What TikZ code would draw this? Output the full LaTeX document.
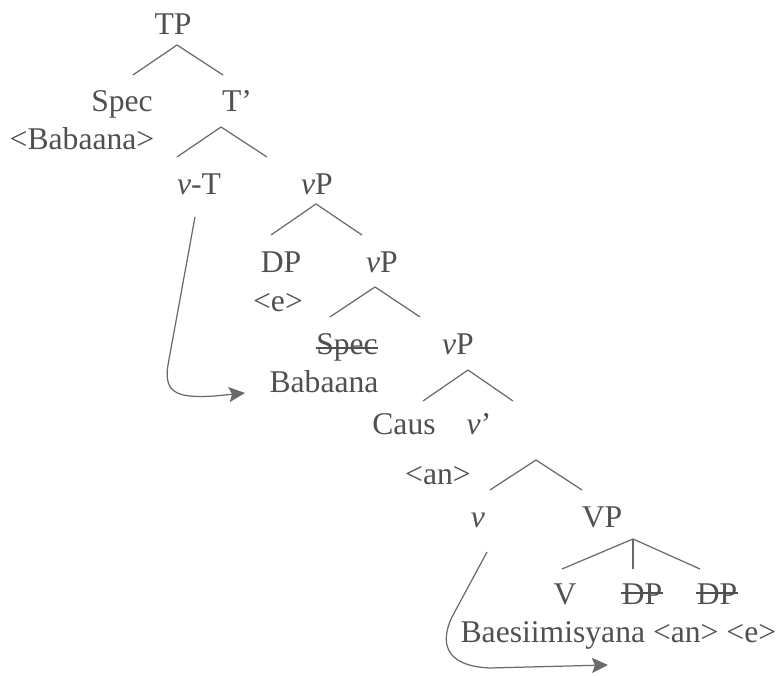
\documentclass[tikz,border=0pt]{standalone}
\usepackage{fontspec}
\setmainfont{Liberation Serif}
\usetikzlibrary{arrows.meta}

\definecolor{txtgray}{HTML}{505050}
\definecolor{lngray}{HTML}{6A6A6A}

\begin{document}
\begin{tikzpicture}[line width=0.7pt, draw=lngray,
    lbl/.style={anchor=base, inner sep=0pt, text=txtgray, font=\fontsize{18}{20}\selectfont},
    mv/.style={-{Stealth[length=0.32cm, width=0.3cm, inset=0.06cm]}, lngray},
    strike/.style={txtgray, line width=0.8pt}]
    \useasboundingbox (0,0) rectangle (15.66cm,13.52cm);

    \coordinate (B1a) at (3.54cm,12.62cm);
    \coordinate (B1l) at (2.66cm,12.02cm);
    \coordinate (B1r) at (4.46cm,12.02cm);
    \coordinate (B2a) at (4.42cm,10.98cm);
    \coordinate (B2l) at (3.54cm,10.38cm);
    \coordinate (B2r) at (5.34cm,10.38cm);
    \coordinate (B3a) at (6.32cm,9.44cm);
    \coordinate (B3l) at (5.42cm,8.82cm);
    \coordinate (B3r) at (7.24cm,8.82cm);
    \coordinate (B4a) at (7.50cm,7.78cm);
    \coordinate (B4l) at (6.60cm,7.18cm);
    \coordinate (B4r) at (8.40cm,7.18cm);
    \coordinate (B5a) at (9.36cm,6.12cm);
    \coordinate (B5l) at (8.46cm,5.50cm);
    \coordinate (B5r) at (10.26cm,5.50cm);
    \coordinate (B6a) at (10.72cm,4.32cm);
    \coordinate (B6l) at (9.80cm,3.72cm);
    \coordinate (B6r) at (11.64cm,3.72cm);
    \coordinate (B7a) at (12.66cm,2.74cm);
    \coordinate (B7l) at (11.24cm,2.14cm);
    \coordinate (B7m) at (12.66cm,2.14cm);
    \coordinate (B7r) at (14.00cm,2.14cm);

    % movement paths
    \coordinate (M1s) at (3.90cm,9.18cm);
    \coordinate (M1t) at (4.90cm,5.66cm);
    \coordinate (M2s) at (9.74cm,2.48cm);
    \coordinate (M2t) at (12.16cm,0.22cm);

    \draw (B1a) -- (B1l);
    \draw (B1a) -- (B1r);
    \draw (B2a) -- (B2l);
    \draw (B2a) -- (B2r);
    \draw (B3a) -- (B3l);
    \draw (B3a) -- (B3r);
    \draw (B4a) -- (B4l);
    \draw (B4a) -- (B4r);
    \draw (B5a) -- (B5l);
    \draw (B5a) -- (B5r);
    \draw (B6a) -- (B6l);
    \draw (B6a) -- (B6r);
    \draw (B7a) -- (B7l);
    \draw (B7a) -- (B7m);
    \draw (B7a) -- (B7r);

    \draw[mv] (M1s) -- (3.36cm,6.22cm)
      .. controls (3.26cm,5.62cm) and (3.60cm,5.56cm) .. (4.30cm,5.60cm) -- (M1t);
    \draw[mv] (M2s) -- (9.04cm,1.18cm)
      .. controls (8.82cm,0.72cm) and (8.84cm,0.20cm) .. (9.80cm,0.16cm) -- (M2t);

    \node[lbl] (TP) at (3.46cm,12.82cm) {TP};
    \node[lbl] (Spec) at (2.44cm,11.28cm) {Spec};
    \node[lbl] (Tb) at (4.74cm,11.28cm) {T’};
    \node[lbl] (Sbab) at (1.64cm,10.52cm) {<Babaana>};
    \node[lbl] (vT) at (3.98cm,9.62cm) {\textit{v}-T};
    \node[lbl] (vP1) at (6.34cm,9.62cm) {\textit{v}P};
    \node[lbl] (DP) at (5.62cm,8.06cm) {DP};
    \node[lbl] (vP2) at (7.64cm,8.06cm) {\textit{v}P};
    \node[lbl] (DPe) at (5.56cm,7.28cm) {<e>};
    \node[lbl] (Spec2) at (6.94cm,6.42cm) {Spec};
    \node[lbl] (vP3) at (9.16cm,6.42cm) {\textit{v}P};
    \node[lbl] (Bab) at (6.48cm,5.66cm) {Babaana};
    \node[lbl] (Caus) at (8.08cm,4.82cm) {Caus};
    \node[lbl] (vb) at (9.58cm,4.82cm) {\textit{v}’};
    \node[lbl] (an) at (8.76cm,3.82cm) {<an>};
    \node[lbl] (v) at (9.56cm,2.96cm) {\textit{v}};
    \node[lbl] (VP) at (12.04cm,2.96cm) {VP};
    \node[lbl] (V) at (11.30cm,1.42cm) {V};
    \node[lbl] (DP1) at (12.84cm,1.42cm) {DP};
    \node[lbl] (DP2) at (14.34cm,1.42cm) {DP};
    \node[lbl, anchor=base west] (Verb) at (9.20cm,0.66cm) {Baesiimisyana <an> <e>};

    % struck-out copies
    \draw[strike] ([yshift=0.14cm]Spec2.base west) -- ([yshift=0.14cm]Spec2.base east);
    \draw[strike] ([yshift=0.24cm]DP1.base west) -- ([yshift=0.24cm]DP1.base east);
    \draw[strike] ([yshift=0.24cm]DP2.base west) -- ([yshift=0.24cm]DP2.base east);
\end{tikzpicture}
\end{document}
